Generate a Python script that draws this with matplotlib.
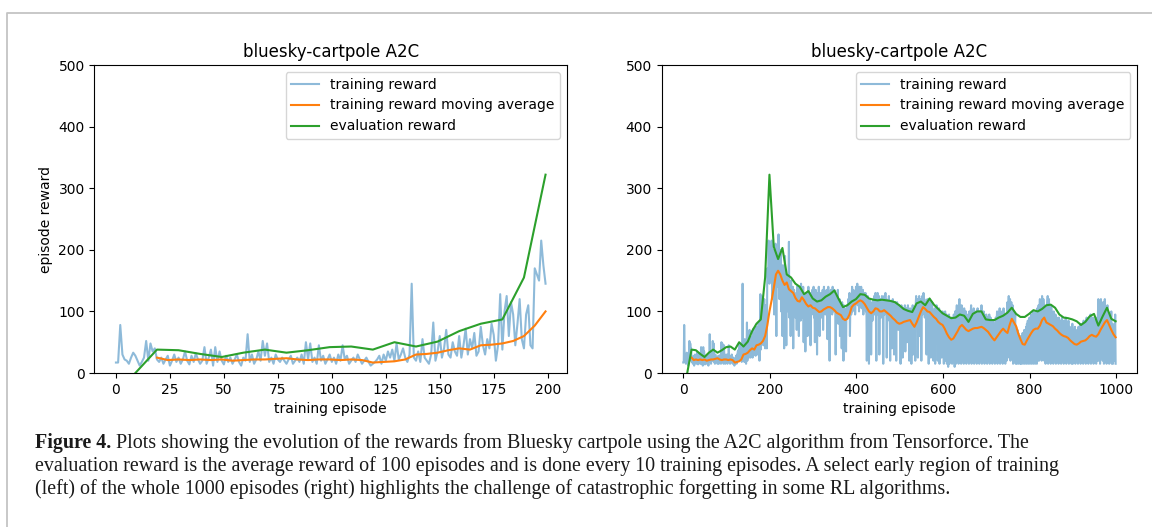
import matplotlib
matplotlib.use('Agg')
import matplotlib.pyplot as plt
import numpy as np
from matplotlib.lines import Line2D

plt.rcParams['font.family'] = 'DejaVu Sans'
plt.rcParams['font.size'] = 10

# training reward per episode (1000 episodes)
train_reward = [
    17, 17, 78, 30, 22, 20, 15, 25, 33, 28, 20, 12, 18, 25, 52, 20, 48, 35, 40, 22,
    18, 25, 15, 22, 28, 12, 20, 30, 18, 25, 15, 22, 35, 20, 14, 28, 18, 32, 22, 15,
    20, 42, 15, 25, 38, 12, 42, 18, 35, 20, 14, 28, 18, 25, 15, 22, 30, 18, 12, 25,
    20, 63, 18, 30, 15, 22, 35, 20, 52, 28, 48, 18, 25, 15, 30, 22, 18, 25, 20, 15,
    22, 28, 15, 20, 25, 18, 30, 15, 50, 22, 48, 18, 25, 15, 45, 20, 28, 15, 22, 30,
    18, 25, 15, 30, 20, 45, 22, 28, 15, 20, 25, 18, 30, 22, 15, 20, 25, 18, 12, 15,
    18, 22, 28, 15, 30, 20, 35, 25, 38, 20, 48, 22, 30, 40, 25, 18, 30, 145, 25, 20,
    35, 18, 55, 25, 20, 15, 30, 82, 20, 35, 60, 25, 40, 70, 30, 25, 50, 35, 28, 60,
    25, 45, 72, 30, 55, 40, 65, 28, 35, 75, 45, 30, 55, 40, 80, 62, 20, 45, 128, 38,
    100, 125, 60, 115, 95, 45, 80, 120, 55, 40, 95, 110, 45, 40, 170, 160, 150, 215, 175, 145,
    180, 205, 150, 190, 215, 160, 120, 175, 200, 140, 95, 185, 160, 210, 130, 60, 170, 195, 150, 140,
    225, 165, 120, 180, 140, 200, 100, 155, 130, 60, 175, 145, 120, 40, 150, 190, 110, 135, 45, 160,
    130, 155, 100, 145, 213, 90, 140, 120, 60, 150, 105, 130, 95, 140, 40, 120, 135, 100, 125, 90,
    115, 130, 70, 140, 105, 95, 125, 60, 140, 110, 120, 85, 145, 100, 130, 90, 115, 140, 50, 120,
    105, 125, 35, 110, 130, 95, 120, 60, 115, 140, 100, 80, 125, 110, 45, 130, 120, 95, 135, 105,
    115, 140, 90, 125, 50, 110, 135, 100, 120, 30, 115, 130, 95, 140, 110, 60, 120, 105, 130, 90,
    125, 110, 135, 70, 115, 140, 100, 125, 95, 130, 110, 135, 120, 55, 125, 140, 115, 100, 20, 130,
    120, 135, 110, 125, 95, 140, 130, 100, 115, 135, 105, 125, 30, 110, 120, 90, 115, 135, 80, 100,
    95, 120, 60, 110, 85, 100, 40, 115, 90, 105, 20, 110, 95, 70, 100, 85, 35, 105, 90, 110,
    100, 120, 90, 115, 130, 60, 110, 125, 95, 120, 140, 100, 115, 135, 110, 125, 130, 95, 120, 140,
    130, 120, 145, 110, 135, 125, 100, 140, 130, 115, 125, 140, 105, 130, 120, 135, 95, 125, 110, 130,
    115, 130, 100, 120, 20, 110, 125, 95, 115, 15, 105, 120, 90, 110, 30, 100, 115, 85, 105, 120,
    110, 125, 95, 115, 130, 100, 20, 120, 110, 130, 95, 115, 125, 30, 105, 120, 110, 90, 115, 125,
    100, 120, 15, 110, 125, 95, 115, 130, 100, 120, 25, 105, 115, 90, 110, 125, 85, 100, 20, 115,
    95, 110, 40, 100, 120, 85, 105, 30, 95, 110, 115, 90, 20, 100, 115, 85, 105, 70, 95, 110,
    80, 100, 15, 95, 110, 75, 100, 25, 90, 105, 60, 95, 110, 35, 100, 85, 105, 50, 95, 110,
    90, 100, 20, 95, 105, 70, 95, 15, 100, 85, 110, 30, 95, 105, 80, 100, 20, 110, 125, 95,
    105, 120, 25, 110, 100, 125, 60, 115, 100, 120, 20, 110, 125, 95, 115, 130, 105, 120, 90, 110,
    100, 115, 30, 105, 120, 95, 110, 15, 100, 120, 90, 110, 25, 105, 95, 115, 80, 100, 20, 95,
    90, 105, 15, 100, 85, 110, 70, 95, 20, 100, 80, 105, 15, 90, 100, 75, 95, 25, 85, 100,
    70, 95, 15, 90, 80, 100, 20, 85, 95, 15, 70, 90, 10, 80, 95, 15, 60, 85, 20, 75,
    90, 15, 70, 85, 20, 95, 60, 10, 100, 85, 15, 90, 110, 20, 100, 80, 15, 95, 120, 25,
    100, 85, 15, 110, 95, 20, 100, 80, 15, 105, 90, 20, 85, 100, 15, 90, 75, 20, 95, 85,
    15, 100, 80, 20, 95, 110, 15, 85, 100, 20, 90, 105, 15, 80, 95, 20, 100, 85, 15, 90,
    105, 20, 95, 80, 15, 100, 90, 20, 85, 110, 15, 95, 80, 20, 100, 85, 15, 90, 75, 20,
    95, 80, 15, 90, 70, 20, 85, 95, 15, 75, 90, 20, 80, 65, 15, 85, 70, 20, 60, 80,
    15, 75, 90, 20, 85, 100, 15, 80, 95, 20, 90, 105, 15, 85, 100, 20, 95, 80, 15, 90,
    105, 20, 85, 95, 15, 80, 90, 20, 100, 115, 25, 105, 125, 30, 110, 120, 20, 100, 115, 25,
    95, 110, 15, 90, 100, 20, 85, 95, 15, 75, 60, 15, 70, 20, 65, 15, 60, 20, 55, 15,
    60, 15, 55, 20, 65, 15, 50, 20, 70, 15, 60, 20, 75, 15, 80, 20, 85, 15, 80, 25,
    90, 15, 85, 20, 95, 15, 90, 20, 100, 15, 85, 20, 95, 15, 100, 20, 90, 15, 105, 20,
    95, 110, 20, 100, 120, 25, 115, 105, 20, 125, 110, 30, 120, 100, 20, 110, 95, 15, 100, 85,
    20, 110, 125, 15, 100, 120, 20, 105, 95, 15, 110, 100, 20, 95, 85, 15, 100, 90, 20, 85,
    95, 15, 80, 90, 20, 85, 75, 15, 90, 80, 20, 70, 85, 15, 75, 90, 20, 80, 65, 15,
    85, 70, 20, 75, 90, 15, 80, 65, 20, 70, 85, 15, 60, 75, 20, 70, 55, 15, 65, 80,
    15, 70, 55, 20, 65, 75, 15, 60, 50, 20, 70, 60, 15, 75, 65, 20, 70, 80, 15, 65,
    75, 20, 80, 65, 15, 85, 70, 20, 75, 60, 15, 80, 90, 20, 85, 70, 15, 90, 75, 20,
    80, 95, 15, 85, 70, 20, 90, 80, 15, 75, 85, 20, 70, 90, 15, 80, 65, 20, 95, 120,
    20, 100, 115, 15, 95, 120, 25, 110, 105, 20, 115, 90, 15, 110, 120, 20, 100, 85, 15, 95,
    110, 20, 90, 80, 15, 95, 70, 20, 85, 100, 15, 60, 80, 15, 70, 55, 20, 65, 95, 15,
]

# moving average, sampled every 5 episodes from episode 19
ma_episode = list(range(19, 1000, 5))
ma_reward = [
    25, 21, 22, 21, 22, 21, 22, 20, 21, 22,
    22, 23, 24, 22, 21, 22, 22, 21, 22, 21,
    17, 18, 19, 22, 30, 31, 33, 37, 40, 38,
    45, 46, 48, 52, 60, 77, 100, 118, 138, 160,
    166, 160, 150, 143, 147, 136, 133, 130, 122, 117,
    116, 123, 118, 112, 108, 110, 106, 105, 102, 99,
    100, 103, 105, 107, 107, 105, 102, 98, 96, 94,
    88, 86, 88, 95, 107, 111, 113, 116, 118, 116,
    112, 106, 100, 97, 100, 105, 104, 100, 100, 102,
    99, 96, 93, 89, 86, 82, 80, 81, 83, 84,
    85, 86, 80, 75, 82, 91, 100, 107, 104, 100,
    99, 95, 91, 88, 83, 80, 78, 72, 64, 58,
    54, 56, 62, 68, 75, 78, 74, 70, 68, 70,
    72, 73, 73, 74, 75, 73, 70, 67, 62, 57,
    53, 58, 63, 68, 72, 68, 65, 78, 88, 82,
    76, 64, 55, 47, 46, 53, 59, 65, 70, 72,
    72, 77, 86, 90, 82, 80, 78, 76, 72, 69,
    65, 62, 60, 59, 57, 53, 50, 47, 46, 48,
    51, 52, 53, 56, 60, 62, 60, 59, 63, 70,
    76, 82, 86, 78, 70, 63, 58,
]

# evaluation reward, every 10 training episodes
eval_episode = list(range(9, 1000, 10))
eval_reward = [
    0, 38, 37, 31, 26, 33, 38, 33, 37, 42,
    43, 38, 50, 43, 51, 68, 80, 87, 155, 322,
    205, 185, 203, 160, 155, 145, 140, 128, 133, 121,
    116, 118, 124, 128, 134, 120, 107, 110, 116, 120,
    128, 127, 121, 119, 118, 119, 118, 117, 115, 110,
    104, 101, 99, 113, 116, 110, 121, 111, 104, 97,
    93, 89, 90, 95, 93, 83, 96, 100, 100, 87,
    86, 86, 90, 93, 98, 106, 96, 91, 91, 96,
    102, 100, 104, 110, 111, 106, 95, 90, 89, 87,
    84, 78, 83, 92, 96, 77, 92, 106, 88, 84,
]

caption_bold = 'Figure 4.'
caption_lines = [
    ' Plots showing the evolution of the rewards from Bluesky cartpole using the A2C algorithm from Tensorforce. The',
    'evaluation reward is the average reward of 100 episodes and is done every 10 training episodes. A select early region of training',
    '(left) of the whole 1000 episodes (right) highlights the challenge of catastrophic forgetting in some RL algorithms.',
]


def draw_panel(ax, n_episodes, ylabel=None):
    ep = np.arange(n_episodes)
    ax.plot(ep, train_reward[:n_episodes], color='tab:blue', alpha=0.5, lw=1.5, label='training reward')
    ma_ep = [e for e in ma_episode if e < n_episodes]
    ax.plot(ma_ep, ma_reward[:len(ma_ep)], color='tab:orange', lw=1.5, label='training reward moving average')
    ev_ep = [e for e in eval_episode if e < n_episodes]
    ax.plot(ev_ep, eval_reward[:len(ev_ep)], color='tab:green', lw=1.5, label='evaluation reward')
    ax.set_ylim(0, 500)
    ax.set_title('bluesky-cartpole A2C', fontsize=12)
    ax.set_xlabel('training episode')
    if ylabel:
        ax.set_ylabel(ylabel)
    ax.legend(loc='upper right')


fig = plt.figure(figsize=(11.52, 5.27), dpi=100)

ax1 = fig.add_axes([0.0820, 0.2922, 0.4102, 0.5844])
draw_panel(ax1, 200, 'episode reward')

ax2 = fig.add_axes([0.5744, 0.2922, 0.4128, 0.5844])
draw_panel(ax2, 1000)

# grey frame round the figure block (left and top edges)
fig.add_artist(Line2D([0.0061, 0.0061, 1.0], [0.0, 0.9744, 0.9744],
                      transform=fig.transFigure, color='#c4c4c4', lw=1.3))

# caption
cap_size = 14.4
t = fig.text(0.0304, 0.150, caption_bold, fontsize=cap_size, fontweight='bold',
             family='Liberation Serif', va='baseline', color='#1a1a1a')
fig.canvas.draw()
bb = t.get_window_extent()
fig.text(bb.x1 / fig.bbox.width, 0.150, caption_lines[0], fontsize=cap_size,
         family='Liberation Serif', va='baseline', color='#1a1a1a')
fig.text(0.0304, 0.1063, caption_lines[1], fontsize=cap_size,
         family='Liberation Serif', va='baseline', color='#1a1a1a')
fig.text(0.0304, 0.0626, caption_lines[2], fontsize=cap_size,
         family='Liberation Serif', va='baseline', color='#1a1a1a')

fig.savefig('out.png', dpi=100)
